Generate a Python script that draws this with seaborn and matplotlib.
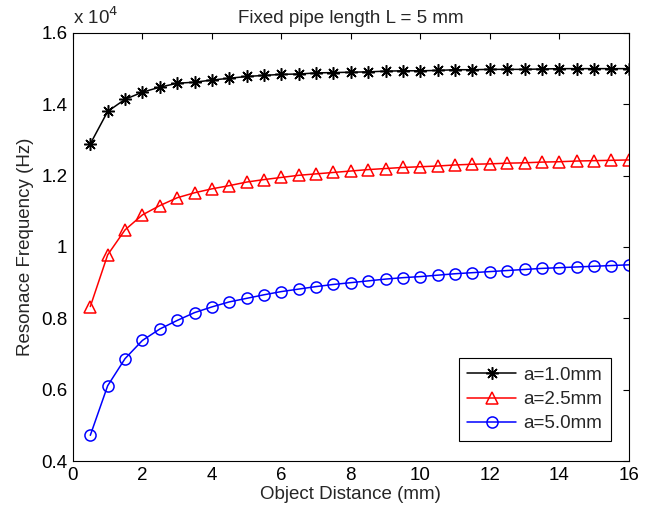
import matplotlib
matplotlib.use('Agg')
import matplotlib.pyplot as plt
import seaborn as sns
import pandas as pd
from matplotlib.ticker import FuncFormatter

# Distancia ao objeto (mm)
distance = [0.5, 1.0, 1.5, 2.0, 2.5, 3.0, 3.5, 4.0, 4.5, 5.0, 5.5, 6.0, 6.5, 7.0, 7.5, 8.0,
            8.5, 9.0, 9.5, 10.0, 10.5, 11.0, 11.5, 12.0, 12.5, 13.0, 13.5, 14.0, 14.5, 15.0, 15.5, 16.0]

# Frequencia de ressonancia (Hz) para cada raio
freq_a10 = [12890, 13800, 14140, 14340, 14480, 14590, 14620, 14680, 14730, 14780, 14810, 14840,
            14850, 14880, 14890, 14900, 14910, 14930, 14940, 14940, 14950, 14970, 14970, 14980,
            14980, 14980, 14990, 15000, 15000, 15000, 15000, 15000]
freq_a25 = [8330, 9780, 10480, 10900, 11160, 11380, 11520, 11630, 11720, 11820, 11890, 11950,
            12010, 12050, 12090, 12130, 12170, 12200, 12230, 12250, 12270, 12300, 12320, 12330,
            12350, 12360, 12380, 12390, 12410, 12420, 12430, 12440]
freq_a50 = [4720, 6110, 6870, 7380, 7700, 7940, 8160, 8320, 8460, 8560, 8660, 8750,
            8820, 8890, 8950, 9000, 9050, 9100, 9140, 9170, 9210, 9250, 9280, 9310,
            9340, 9370, 9400, 9420, 9440, 9460, 9480, 9500]

labels = ['a=1.0mm', 'a=2.5mm', 'a=5.0mm']

sns.set_style('white')
plt.rcParams['font.family'] = ['Liberation Sans', 'DejaVu Sans']
fs = 13.5

fig = plt.figure(figsize=(6.57, 5.12), dpi=100)
ax = fig.add_axes([0.111, 0.0996, 0.846, 0.836])

df = pd.DataFrame({'distance': distance, 'a10': freq_a10, 'a25': freq_a25, 'a50': freq_a50})

# asterisco estilo MATLAB (+ e x juntos)
sns.lineplot(data=df, x='distance', y='a10', ax=ax, color='black', marker=(8, 2, 0),
             markersize=9, markeredgecolor='black', markeredgewidth=1.1,
             linewidth=1.1, label=labels[0])
sns.lineplot(data=df, x='distance', y='a25', ax=ax, color='red', marker='^',
             markersize=8.5, markerfacecolor='none', markeredgecolor='red',
             markeredgewidth=1.1, linewidth=1.1, label=labels[1])
sns.lineplot(data=df, x='distance', y='a50', ax=ax, color='blue', marker='o',
             markersize=8, markerfacecolor='none', markeredgecolor='blue',
             markeredgewidth=1.1, linewidth=1.1, label=labels[2])

ax.set_xlim(0, 16)
ax.set_ylim(4000, 16000)
ax.set_xticks(range(0, 17, 2))
ax.set_yticks([4000, 6000, 8000, 10000, 12000, 14000, 16000])
ax.yaxis.set_major_formatter(FuncFormatter(lambda v, p: '%g' % (v / 1e4)))

ax.tick_params(direction='in', length=4, width=0.8, top=True, right=True,
               labelsize=fs, pad=4, colors='black')
for s in ax.spines.values():
    s.set_color('black')
    s.set_linewidth(0.8)

ax.set_title('Fixed pipe length L = 5 mm', fontsize=fs, pad=7)
ax.set_xlabel('Object Distance (mm)', fontsize=fs, labelpad=2)
ax.set_ylabel('Resonace Frequency (Hz)', fontsize=fs, labelpad=5)
ax.text(0.0, 1.012, r'x 10$^{4}$', transform=ax.transAxes, fontsize=fs,
        ha='left', va='bottom')

leg = ax.legend(loc='lower right', bbox_to_anchor=(0.968, 0.047), fontsize=fs,
                frameon=True, fancybox=False, edgecolor='black', framealpha=1,
                handlelength=2.6, borderpad=0.45, labelspacing=0.38, handletextpad=0.4,
                borderaxespad=0)
leg.get_frame().set_linewidth(0.8)

plt.savefig('out.png', dpi=100)
